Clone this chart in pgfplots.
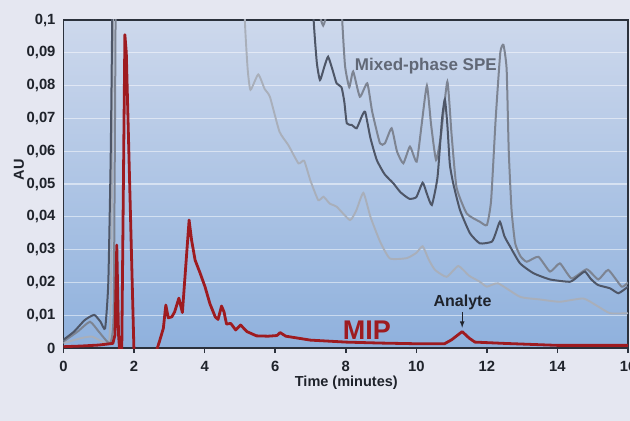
\documentclass[border=0pt]{standalone}
\usepackage{pgfplots}
\pgfplotsset{compat=1.18}
\usepackage{fontspec}
\setmainfont{Liberation Sans}
\definecolor{outerbg}{HTML}{E5E7F1}
\definecolor{plottop}{HTML}{CDD8EC}
\definecolor{plotbot}{HTML}{8FB1DD}
\definecolor{axcol}{HTML}{2B313C}
\definecolor{mipred}{HTML}{9E1B20}
\definecolor{gA}{HTML}{4E5667}
\definecolor{gB}{HTML}{7D8492}
\definecolor{gL}{HTML}{A9AFBA}
\definecolor{spetxt}{HTML}{616876}
\definecolor{labtxt}{HTML}{1F232B}
\begin{document}
\begin{tikzpicture}
\fill[outerbg] (-63.5bp,-73bp) rectangle (566.5bp,348bp);
\path[use as bounding box] (-63.5bp,-73bp) rectangle (566.5bp,348bp);
\begin{axis}[
  at={(0,0)}, anchor=south west,
  scale only axis, width=564.5bp, height=328bp,
  xmin=0, xmax=16, ymin=0, ymax=0.1,
  axis background/.style={shade, top color=plottop, bottom color=plotbot},
  axis line style={axcol, line width=1.8bp},
  ytick={0,0.01,0.02,0.03,0.04,0.05,0.06,0.07,0.08,0.09,0.1},
  yticklabels={0,{0,01},{0,02},{0,03},{0,04},{0,05},{0,06},{0,07},{0,08},{0,09},{0,1}},
  xtick={0,2,4,6,8,10,12,14,16},
  xticklabels={0,2,4,6,8,10,12,14,16},
  ymajorgrids,
  major grid style={white, opacity=0.5, line width=1.3bp},
  ytick style={draw=none},
  xtick pos=bottom, tick align=outside,
  xtick style={axcol, line width=1.5bp},
  major tick length=5bp,
  ticklabel style={font=\fontsize{14.8bp}{17bp}\selectfont\bfseries, text=labtxt},
  yticklabel style={xshift=0.5bp},
  xticklabel style={yshift=-5bp},
  clip mode=individual,
]
% lightest gray trace
\addplot[gL, line width=1.9bp, smooth, tension=0.3] coordinates {
(0,0.0015)(0.5,0.003)(0.8,0.0035)(1.1,0.002)(1.3,0.0025)(1.36,0.03)(1.42,0.13)
};
\addplot[gL, line width=1.9bp, smooth, tension=0.3] coordinates {
(5.08,0.13)(5.14,0.1)(5.22,0.085)(5.3,0.0787)(5.52,0.0834)(5.7,0.079)(5.85,0.0766)
(6.12,0.066)(6.37,0.0619)(6.66,0.0563)(6.82,0.0571)(7.0,0.051)(7.22,0.0451)(7.37,0.0461)
(7.55,0.044)(7.74,0.0431)(8.12,0.039)(8.3,0.042)(8.5,0.0473)(8.7,0.04)(8.97,0.0325)
(9.25,0.0273)(9.73,0.0274)(10.0,0.029)(10.18,0.031)(10.35,0.027)(10.53,0.0238)
(10.86,0.0217)(11.19,0.025)(11.5,0.022)(11.8,0.0202)(12.0,0.0187)(12.32,0.0197)
(12.94,0.0156)(13.5,0.0148)(14.07,0.0141)(14.73,0.0151)(15.1,0.013)(15.49,0.0106)(16,0.0106)
};
% medium gray trace
\addplot[gB, line width=2bp, smooth, tension=0.3] coordinates {
(0,0.002)(0.4,0.005)(0.75,0.008)(1.0,0.005)(1.32,0.0014)(1.42,0.01)(1.46,0.07)(1.49,0.13)
};
\addplot[gB, line width=2bp, smooth, tension=0.3] coordinates {
(7.15,0.12)(7.24,0.103)(7.36,0.0983)(7.47,0.103)(7.55,0.12)
};
\addplot[gB, line width=2bp, smooth, tension=0.3] coordinates {
(7.84,0.12)(7.9,0.1)(7.98,0.086)
(8.1,0.0795)(8.21,0.0843)(8.4,0.0766)(8.61,0.0807)(8.75,0.072)(8.97,0.0624)(9.11,0.0624)
(9.3,0.067)(9.45,0.06)(9.63,0.0563)(9.82,0.0614)(10.01,0.0568)(10.15,0.068)(10.3,0.08)
(10.42,0.068)(10.56,0.0573)(10.7,0.065)(10.88,0.0812)(11.0,0.065)(11.14,0.049)
(11.43,0.041)(11.8,0.0385)(12.0,0.0375)(12.12,0.045)(12.25,0.07)(12.38,0.09)(12.47,0.0924)
(12.56,0.085)(12.62,0.06)(12.7,0.042)(12.8,0.032)(12.95,0.028)(13.13,0.0263)(13.46,0.0278)
(13.79,0.0233)(14.07,0.0258)(14.4,0.0212)(14.83,0.024)(15.16,0.0209)(15.44,0.0238)
(15.82,0.0187)(16,0.02)
};
% darkest gray trace
\addplot[gA, line width=2bp, smooth, tension=0.3] coordinates {
(0,0.0025)(0.3,0.005)(0.6,0.0085)(0.87,0.0101)(1.05,0.008)(1.18,0.006)(1.27,0.02)
(1.34,0.06)(1.41,0.13)
};
\addplot[gA, line width=2bp, smooth, tension=0.3] coordinates {
(7.03,0.12)(7.09,0.1)(7.18,0.087)(7.27,0.0817)(7.4,0.086)(7.5,0.0888)
(7.62,0.085)(7.74,0.0807)(7.88,0.0795)(7.96,0.075)(8.03,0.0685)(8.17,0.068)(8.31,0.067)
(8.45,0.0705)(8.55,0.072)(8.7,0.064)(8.88,0.0573)(9.1,0.053)(9.35,0.0502)(9.55,0.0475)
(9.8,0.0455)(10.0,0.046)(10.18,0.0504)(10.3,0.047)(10.44,0.0436)(10.6,0.052)(10.73,0.07)
(10.81,0.0758)(10.88,0.068)(10.95,0.056)(11.05,0.05)(11.24,0.042)(11.52,0.035)(11.8,0.0319)
(12.14,0.0324)(12.25,0.035)(12.37,0.0385)(12.5,0.034)(12.66,0.0309)(12.94,0.0258)
(13.32,0.0228)(13.79,0.0209)(14.36,0.0202)(14.6,0.022)(14.78,0.0233)(14.95,0.021)
(15.15,0.0192)(15.49,0.0182)(15.73,0.0167)(16,0.0187)
};
% MIP trace
\addplot[mipred, line width=2.8bp, line join=round] coordinates {
(0,0.0004)(0.5,0.0006)(1.0,0.0009)(1.4,0.0014)(1.46,0.004)(1.51,0.0314)(1.56,0.004)
(1.6,-0.002)(1.65,-0.002)(1.74,0.0955)(1.78,0.09)(2.0,-0.002)(2.6,-0.002)(2.72,0.002)
(2.83,0.006)(2.9,0.0131)(2.97,0.0092)(3.07,0.0095)(3.15,0.011)(3.27,0.0152)(3.37,0.0108)
(3.56,0.039)(3.63,0.0329)(3.73,0.0268)(3.87,0.0229)(4.01,0.0187)(4.15,0.0135)(4.3,0.0095)
(4.38,0.0087)(4.48,0.0128)(4.55,0.011)(4.62,0.0073)(4.74,0.0075)(4.88,0.0055)(5.02,0.007)
(5.2,0.005)(5.47,0.0037)(5.8,0.0036)(6.05,0.0038)(6.14,0.0047)(6.3,0.0036)(7.0,0.0024)
(8.0,0.0018)(9.0,0.0015)(10.0,0.0013)(10.8,0.0013)(11.0,0.0025)(11.3,0.005)(11.5,0.003)
(11.66,0.0018)(12.5,0.0014)(14.0,0.0008)(16.0,0.0008)
};
\node[text=spetxt, font=\fontsize{17bp}{20bp}\selectfont\bfseries] at (axis cs:10.27,0.086) {Mixed-phase SPE};
\node[text=mipred, font=\fontsize{27bp}{30bp}\selectfont\bfseries] at (axis cs:8.6,0.0055) {MIP};
\node[text=labtxt, font=\fontsize{16bp}{19bp}\selectfont\bfseries] at (axis cs:11.31,0.014) {Analyte};
\draw[labtxt, line width=1.2bp, -latex] (axis cs:11.3,0.011) -- (axis cs:11.3,0.0062);
\node[text=labtxt, font=\fontsize{14.5bp}{17bp}\selectfont\bfseries, rotate=90] at ([xshift=-44.5bp]rel axis cs:0,0.544) {AU};
\node[text=labtxt, font=\fontsize{14.5bp}{17bp}\selectfont\bfseries] at ([yshift=-35bp]rel axis cs:0.501,0) {Time (minutes)};
\end{axis}
\end{tikzpicture}
\end{document}
